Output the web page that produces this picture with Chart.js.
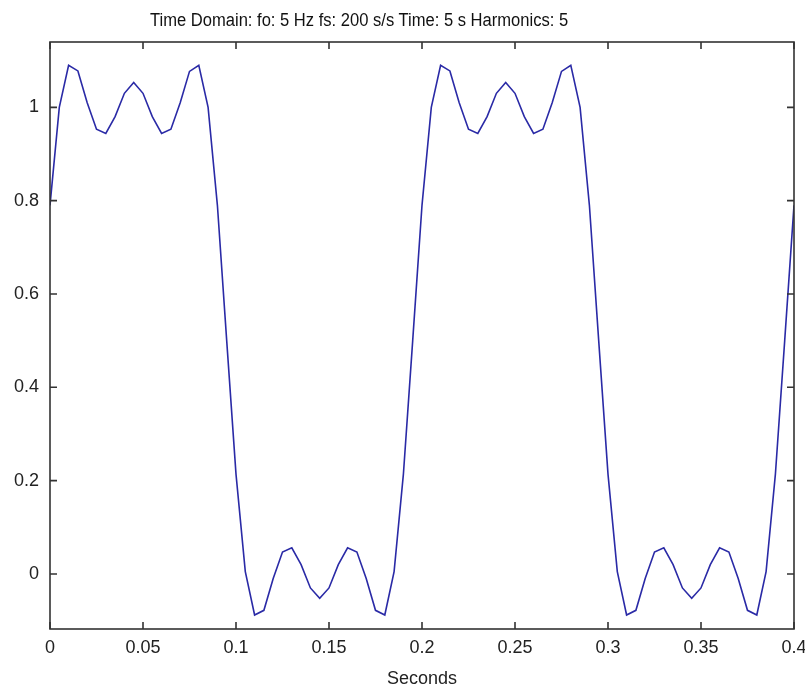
<!DOCTYPE html>
<html>
<head>
<meta charset="utf-8">
<script src="https://cdn.jsdelivr.net/npm/chart.js@4.4.1/dist/chart.umd.min.js"></script>
<style>
  html, body { margin: 0; padding: 0; background: #fff; }
  #wrap { position: relative; width: 805px; height: 688px; }
  #chart { position: absolute; left: 0; top: 0; }
  #title {
    position: absolute; left: 150px; top: 11px;
    font: 18px/18px "Liberation Sans", Arial, sans-serif;
    color: #111; white-space: pre;
    transform: scaleX(0.92); transform-origin: 0 0;
  }
</style>
</head>
<body>
<div id="wrap">
  <canvas id="chart" width="805" height="688"></canvas>
  <div id="title">Time Domain: fo: 5 Hz fs: 200 s/s Time: 5 s Harmonics: 5</div>
</div>
<script>
// sample times (s), fs = 200 s/s
const times = [
  0, 0.005, 0.01, 0.015, 0.02, 0.025, 0.03, 0.035, 0.04, 0.045,
  0.05, 0.055, 0.06, 0.065, 0.07, 0.075, 0.08, 0.085, 0.09, 0.095,
  0.1, 0.105, 0.11, 0.115, 0.12, 0.125, 0.13, 0.135, 0.14, 0.145,
  0.15, 0.155, 0.16, 0.165, 0.17, 0.175, 0.18, 0.185, 0.19, 0.195,
  0.2, 0.205, 0.21, 0.215, 0.22, 0.225, 0.23, 0.235, 0.24, 0.245,
  0.25, 0.255, 0.26, 0.265, 0.27, 0.275, 0.28, 0.285, 0.29, 0.295,
  0.3, 0.305, 0.31, 0.315, 0.32, 0.325, 0.33, 0.335, 0.34, 0.345,
  0.35, 0.355, 0.36, 0.365, 0.37, 0.375, 0.38, 0.385, 0.39, 0.395,
  0.4
];

// signal values
const signal = [
  0.79, 1.00, 1.09, 1.078, 1.01, 0.953, 0.944, 0.98, 1.03, 1.053,
  1.03, 0.98, 0.944, 0.953, 1.01, 1.077, 1.09, 1.00, 0.79, 0.50,
  0.214, 0.005, -0.088, -0.078, -0.01, 0.047, 0.056, 0.02, -0.03, -0.052,
  -0.03, 0.02, 0.056, 0.047, -0.01, -0.078, -0.088, 0.005, 0.214, 0.50,
  0.79, 1.00, 1.09, 1.078, 1.01, 0.953, 0.944, 0.98, 1.03, 1.053,
  1.03, 0.98, 0.944, 0.953, 1.01, 1.077, 1.09, 1.00, 0.79, 0.50,
  0.214, 0.005, -0.088, -0.078, -0.01, 0.047, 0.056, 0.02, -0.03, -0.052,
  -0.03, 0.02, 0.056, 0.047, -0.01, -0.078, -0.088, 0.005, 0.214, 0.50,
  0.79
];

const xTickValues = [0, 0.05, 0.1, 0.15, 0.2, 0.25, 0.3, 0.35, 0.4];
const xTickLabels = ["0", "0.05", "0.1", "0.15", "0.2", "0.25", "0.3", "0.35", "0.4"];
const yTickValues = [0, 0.2, 0.4, 0.6, 0.8, 1];
const yTickLabels = ["0", "0.2", "0.4", "0.6", "0.8", "1"];
const xRange = [0, 0.4];
const yRange = [-0.118, 1.14];

const axisColor = "#333";
const lineColor = "#2a2aa6";
const tickFont = { family: "'Liberation Sans', Arial, sans-serif", size: 18 };

// MATLAB style box with inward ticks on all four sides
const boxPlugin = {
  id: "matlabBox",
  afterDatasetsDraw(chart) {
    const { ctx, chartArea: a, scales } = chart;
    const len = 7;
    ctx.save();
    ctx.strokeStyle = axisColor;
    ctx.lineWidth = 1.6;
    ctx.strokeRect(a.left, a.top, a.right - a.left, a.bottom - a.top);
    ctx.beginPath();
    scales.x.ticks.forEach((t) => {
      const px = scales.x.getPixelForValue(t.value);
      ctx.moveTo(px, a.bottom); ctx.lineTo(px, a.bottom - len);
      ctx.moveTo(px, a.top); ctx.lineTo(px, a.top + len);
    });
    scales.y.ticks.forEach((t) => {
      const py = scales.y.getPixelForValue(t.value);
      ctx.moveTo(a.left, py); ctx.lineTo(a.left + len, py);
      ctx.moveTo(a.right, py); ctx.lineTo(a.right - len, py);
    });
    ctx.stroke();
    ctx.restore();
  },
};

new Chart(document.getElementById("chart"), {
  type: "line",
  data: {
    datasets: [
      {
        data: times.map((t, i) => ({ x: t, y: signal[i] })),
        borderColor: lineColor,
        borderWidth: 1.6,
        pointRadius: 0,
        tension: 0,
        fill: false,
      },
    ],
  },
  options: {
    responsive: false,
    animation: false,
    devicePixelRatio: 1,
    layout: { padding: { top: 42, right: 11, left: 0, bottom: 0 } },
    plugins: { legend: { display: false }, tooltip: { enabled: false } },
    scales: {
      x: {
        type: "linear",
        min: xRange[0],
        max: xRange[1],
        grid: { display: false, drawTicks: false },
        border: { display: false },
        afterBuildTicks: (scale) => {
          scale.ticks = xTickValues.map((v) => ({ value: v }));
        },
        afterFit: (scale) => {
          scale.height = 59;
          scale.paddingLeft = 0;
          scale.paddingRight = 0;
        },
        ticks: {
          color: "#222",
          font: tickFont,
          padding: 8,
          maxRotation: 0,
          autoSkip: false,
          callback: (v, i) => xTickLabels[i],
        },
        title: {
          display: true,
          text: "Seconds",
          color: "#222",
          font: { ...tickFont, lineHeight: 1 },
          padding: { top: 0, bottom: 0 },
        },
      },
      y: {
        type: "linear",
        min: yRange[0],
        max: yRange[1],
        grid: { display: false, drawTicks: false },
        border: { display: false },
        afterBuildTicks: (scale) => {
          scale.ticks = yTickValues.map((v) => ({ value: v }));
        },
        afterFit: (scale) => {
          scale.width = 50;
        },
        ticks: {
          color: "#222",
          font: tickFont,
          padding: 11,
          callback: (v, i) => yTickLabels[i],
        },
      },
    },
  },
  plugins: [boxPlugin],
});
</script>
</body>
</html>
